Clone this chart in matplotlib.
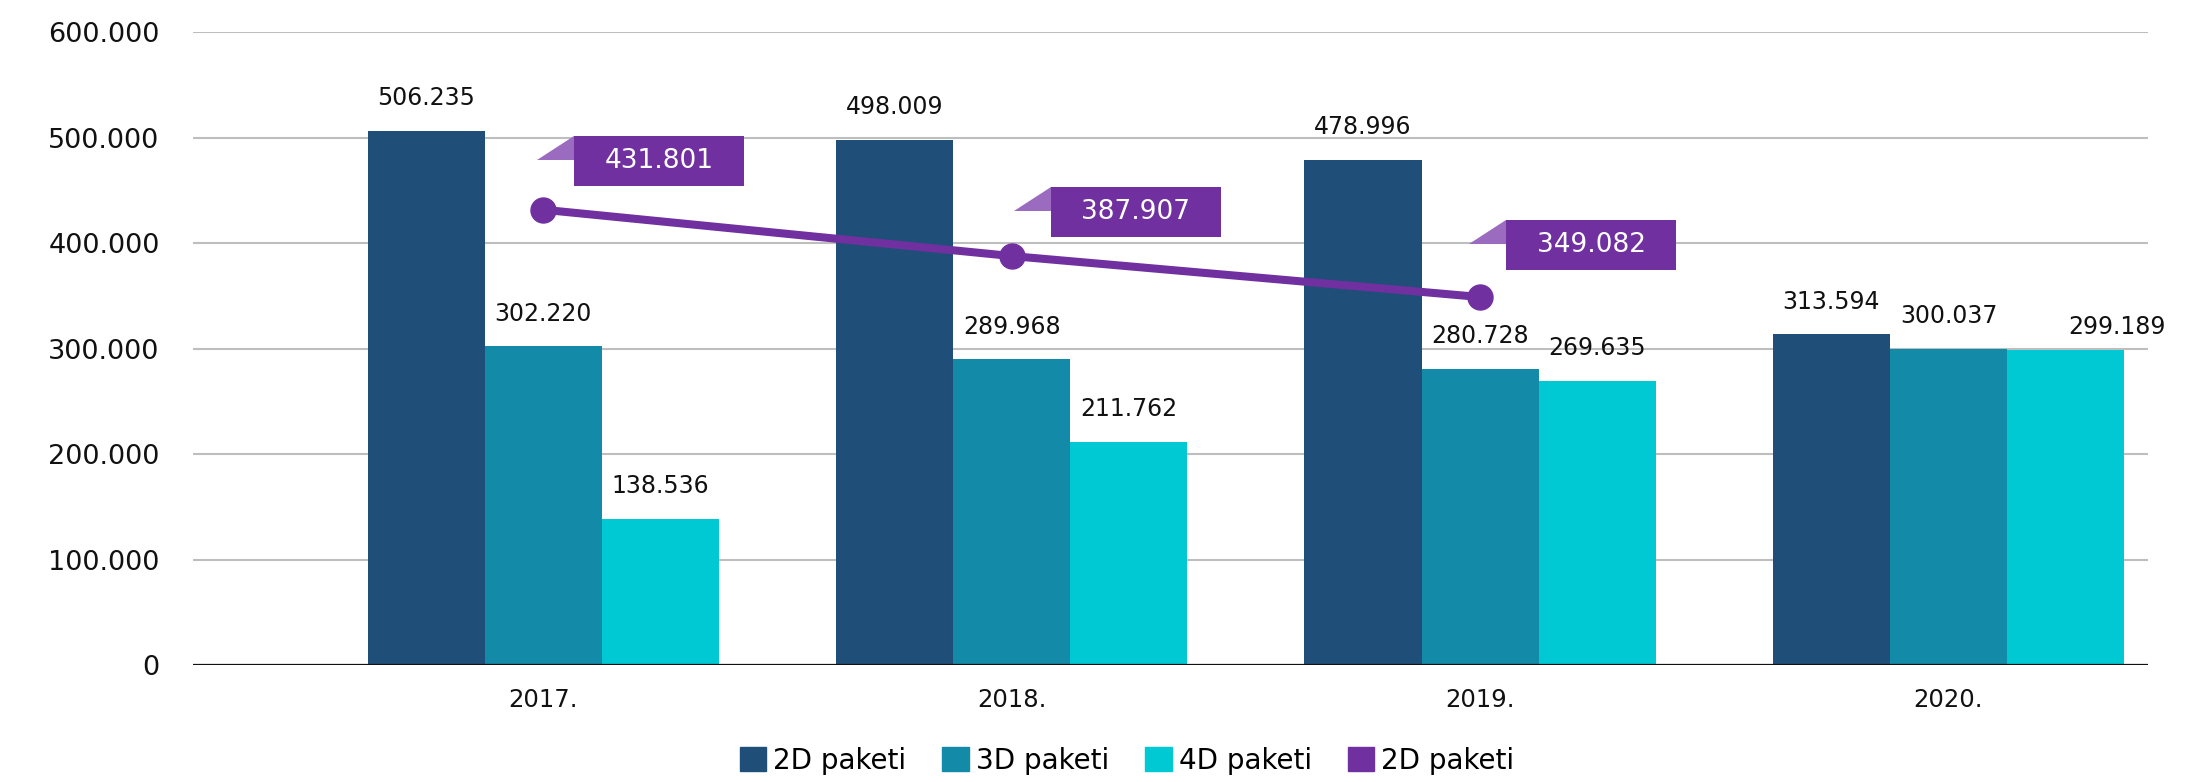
import matplotlib
matplotlib.use("Agg")
import matplotlib.pyplot as plt
import numpy as np
from matplotlib.patches import Rectangle, Polygon, Patch
from matplotlib.transforms import Affine2D

years = ["2017.", "2018.", "2019.", "2020."]
paket_2d = [506235, 498009, 478996, 313594]
paket_3d = [302220, 289968, 280728, 300037]
paket_4d = [138536, 211762, 269635, 299189]
line_2d = [431801, 387907, 349082]
series_names = ["2D paketi", "3D paketi", "4D paketi", "2D paketi"]

c2d = "#1F4E79"
c3d = "#138AA8"
c4d = "#00C9D3"
cline = "#7030A0"
cflag = "#9B6BC0"

plt.rcParams["font.family"] = ["DejaVu Sans"]


def fmt(v):
    return f"{v:,}".replace(",", ".")


fig = plt.figure(figsize=(22.03, 7.82), dpi=100)
ax = fig.add_axes([193 / 2203, 1 - 665.3 / 782, 1955 / 2203, 633 / 782])

x = np.arange(len(years))
w = 0.25
bars = []
for off, vals, col in [(-w, paket_2d, c2d), (0, paket_3d, c3d), (w, paket_4d, c4d)]:
    b = ax.bar(x + off, vals, w, color=col, zorder=2)
    bars.append(b)

ax.set_xlim(-0.748, 3.426)
ax.set_ylim(0, 600000)
ax.set_yticks(range(0, 600001, 100000))
ax.set_yticklabels([fmt(v) for v in range(0, 600001, 100000)])
ax.set_xticks(x)
ax.set_xticklabels(years)
ax.tick_params(axis="y", length=0, pad=24, labelsize=19.5, colors="#111111")
ax.tick_params(axis="x", length=0, pad=16, labelsize=17.5, colors="#111111")
ax.grid(axis="y", color="#BEBEBE", lw=1.5, zorder=0)
ax.set_axisbelow(True)
for s in ax.spines.values():
    s.set_visible(False)
ax.axhline(0, color="#111111", lw=1.6, zorder=3)

# data labels above bars
for b in bars:
    for rect in b:
        v = int(rect.get_height())
        dx, dy = 0, 15
        if v == paket_4d[3]:
            dx, dy = 37, 8
        ax.annotate(fmt(v), (rect.get_x() + rect.get_width() / 2, v),
                    xytext=(dx, dy), textcoords="offset points",
                    ha="center", va="bottom", fontsize=17, color="#111111")

# purple line
xl = x[:len(line_2d)]
ax.plot(xl, line_2d, color=cline, lw=5.8, marker="o", ms=18, zorder=4,
        solid_capstyle="butt")

# callout boxes (pixel offsets from the marker)
callout_off = [(31, 24), (39, 19), (26, 27)]
box_w, box_h = 170, 50
for xi, yi, (ox, oy) in zip(xl, line_2d, callout_off):
    px, py = ax.transData.transform((xi, yi))
    t = Affine2D().translate(px, py)
    tri = Polygon([(ox - 37, oy + box_h - 24), (ox, oy + box_h - 24), (ox, oy + box_h)],
                  closed=True, facecolor=cflag, edgecolor="none",
                  transform=t, clip_on=False, zorder=5)
    box = Rectangle((ox, oy), box_w, box_h, facecolor=cline, edgecolor="none",
                    transform=t, clip_on=False, zorder=5)
    fig.add_artist(tri)
    fig.add_artist(box)
    fig.text((px + ox + box_w / 2) / 2203, (py + oy + box_h / 2) / 782, fmt(yi),
             ha="center", va="center", color="white", fontsize=19, zorder=6)

handles = [Patch(color=c2d), Patch(color=c3d), Patch(color=c4d), Patch(color=cline)]
fig.legend(handles, series_names, loc="center", bbox_to_anchor=(0.5116, 0.027),
           ncol=4, frameon=False, fontsize=20, handlelength=0.95, handleheight=0.95,
           handletextpad=0.25, columnspacing=1.3, borderaxespad=0, borderpad=0)

fig.savefig("out.png", dpi=100)
